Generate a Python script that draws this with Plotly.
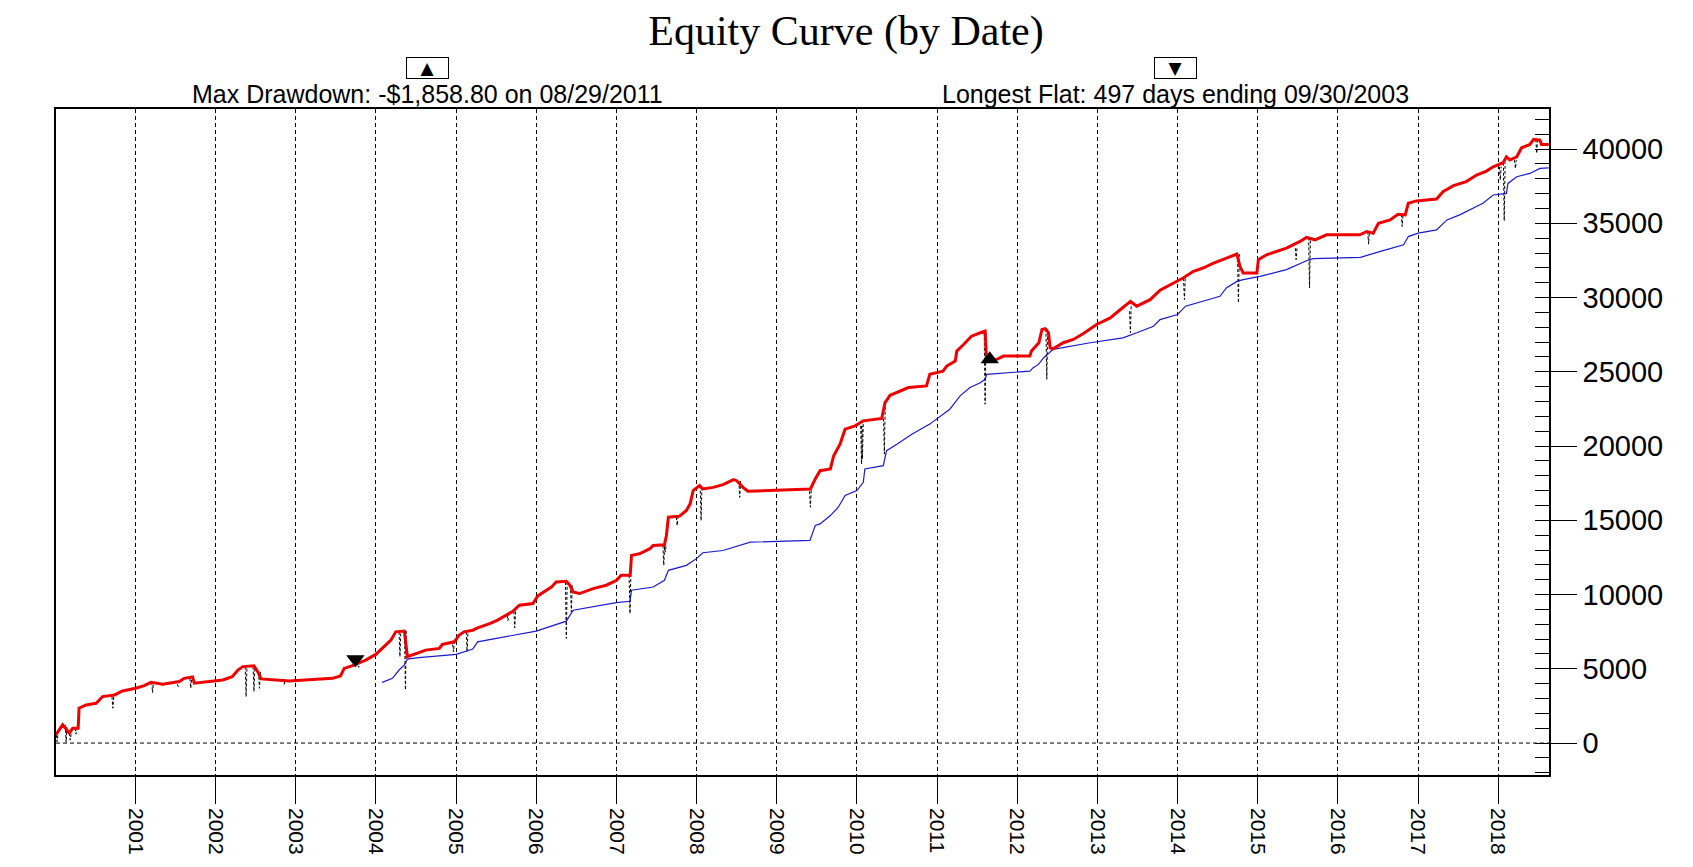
import plotly.graph_objects as go
from datetime import datetime, timedelta

# ---------------- data ----------------
equity_dates = [
    "2000-01-05", "2000-02-04", "2000-03-06", "2000-03-21", "2000-04-15", "2000-04-19",
    "2000-05-21", "2000-07-06", "2000-08-04", "2000-09-28", "2000-11-03", "2001-01-02",
    "2001-02-10", "2001-03-13", "2001-05-05", "2001-07-20", "2001-08-11", "2001-09-18",
    "2001-09-26", "2002-02-03", "2002-03-18", "2002-04-13", "2002-05-05", "2002-06-25",
    "2002-07-12", "2002-07-28", "2002-12-02", "2003-06-18", "2003-07-24", "2003-08-10",
    "2003-09-17", "2003-11-16", "2004-01-01", "2004-02-15", "2004-03-10", "2004-04-01",
    "2004-05-10", "2004-05-24", "2004-07-09", "2004-08-16", "2004-10-16", "2004-10-30",
    "2004-12-24", "2005-01-15", "2005-02-06", "2005-03-18", "2005-04-09", "2005-04-24",
    "2005-06-03", "2005-07-09", "2005-08-17", "2005-09-17", "2005-10-16", "2005-12-17",
    "2006-01-08", "2006-02-06", "2006-03-11", "2006-04-02", "2006-05-18", "2006-06-03",
    "2006-06-18", "2006-07-17", "2006-09-17", "2006-11-16", "2007-01-02", "2007-01-23",
    "2007-03-05", "2007-03-11", "2007-04-16", "2007-06-03", "2007-06-18", "2007-08-08",
    "2007-08-17", "2007-08-26", "2007-10-16", "2007-11-16", "2007-12-03", "2007-12-17",
    "2008-01-15", "2008-01-30", "2008-03-17", "2008-05-01", "2008-06-18", "2008-07-02",
    "2008-07-31", "2008-08-22", "2009-06-03", "2009-06-25", "2009-07-17", "2009-09-02",
    "2009-09-17", "2009-10-16", "2009-11-08", "2009-12-24", "2010-01-30", "2010-04-24",
    "2010-05-09", "2010-06-01", "2010-08-08", "2010-08-24", "2010-11-14", "2010-11-29",
    "2011-01-28", "2011-02-14", "2011-03-25", "2011-04-01", "2011-05-02", "2011-06-07",
    "2011-07-17", "2011-08-08", "2011-08-15", "2011-09-30", "2011-10-31", "2012-02-28",
    "2012-03-06", "2012-04-09", "2012-04-23", "2012-05-08", "2012-05-23", "2012-05-30",
    "2012-06-13", "2012-07-29", "2012-09-13", "2012-10-29", "2012-12-28", "2013-02-28",
    "2013-04-06", "2013-05-31", "2013-06-29", "2013-08-29", "2013-10-13", "2013-12-14",
    "2014-01-26", "2014-03-14", "2014-04-27", "2014-06-14", "2014-08-11", "2014-09-28",
    "2014-10-12", "2014-10-27", "2014-12-28", "2015-01-04", "2015-02-10", "2015-03-29",
    "2015-05-12", "2015-07-13", "2015-08-11", "2015-09-19", "2015-11-11", "2016-04-10",
    "2016-05-12", "2016-06-10", "2016-07-04", "2016-08-26", "2016-10-01", "2016-11-03",
    "2016-11-17", "2016-12-24", "2017-03-26", "2017-04-24", "2017-06-11", "2017-08-08",
    "2017-09-24", "2017-11-08", "2017-12-09", "2018-01-23", "2018-02-07", "2018-02-23",
    "2018-03-26", "2018-04-17", "2018-05-25", "2018-06-11", "2018-07-10", "2018-07-17",
    "2018-08-19",
]
equity_values = [
    560, 1230, 670, 1000, 1000, 2350,
    2570, 2680, 3130, 3240, 3510, 3690,
    3870, 4090, 3960, 4140, 4360, 4450,
    4030, 4250, 4470, 4920, 5150, 5210,
    4810, 4320, 4180, 4360, 4520, 5030,
    5210, 5590, 5970, 6600, 6940, 7490,
    7540, 5820, 6040, 6260, 6375, 6640,
    6820, 7270, 7490, 7600, 7760, 7830,
    8050, 8280, 8610, 8880, 9280, 9400,
    9910, 10180, 10510, 10850, 10890, 10630,
    10180, 10070, 10400, 10630, 10960, 11300,
    11300, 12640, 12750, 13090, 13310, 13350,
    13980, 15210, 15280, 15660, 16110, 17000,
    17340, 17110, 17220, 17400, 17740, 17670,
    17220, 16960, 17110, 17780, 18340, 18460,
    19350, 20130, 21140, 21360, 21700, 21860,
    22930, 23420, 23820, 23940, 24050, 24830,
    25050, 25390, 25730, 26400, 26840, 27400,
    27630, 27740, 25730, 25840, 26060, 26060,
    26400, 26960, 27850, 27900, 27630, 26620,
    26550, 26960, 27180, 27580, 28190, 28630,
    29080, 29750, 29420, 29860, 30500, 30980,
    31320, 31770, 31990, 32320, 32660, 32930,
    32100, 31650, 31650, 32550, 32880, 33110,
    33330, 33780, 34050, 33890, 34230, 34230,
    34450, 34340, 35010, 35230, 35610, 35570,
    36350, 36510, 36640, 37130, 37540, 37810,
    38250, 38520, 38810, 39080, 39480, 39260,
    39480, 40090, 40310, 40650, 40600, 40310,
    40310,
]

trend_dates = [
    "2004-01-30", "2004-03-17", "2004-04-16", "2004-05-10", "2004-05-24", "2004-07-15",
    "2005-01-01", "2005-03-18", "2005-04-09", "2005-07-02", "2006-01-01", "2006-05-18",
    "2006-06-18", "2007-01-01", "2007-03-04", "2007-03-11", "2007-06-18", "2007-08-08",
    "2007-08-26", "2007-11-16", "2008-01-01", "2008-01-30", "2008-05-01", "2008-09-02",
    "2009-06-01", "2009-06-25", "2009-07-17", "2009-09-02", "2009-10-08", "2009-11-08",
    "2010-01-01", "2010-01-30", "2010-02-06", "2010-05-01", "2010-05-16", "2010-07-02",
    "2010-08-15", "2010-09-08", "2010-11-29", "2011-02-28", "2011-04-16", "2011-05-31",
    "2011-07-17", "2011-08-08", "2011-08-15", "2012-02-28", "2012-03-14", "2012-04-07",
    "2012-05-01", "2012-05-30", "2012-06-13", "2012-11-29", "2013-04-27", "2013-06-29",
    "2013-09-13", "2013-10-13", "2014-01-01", "2014-02-06", "2014-03-29", "2014-07-13",
    "2014-08-11", "2014-09-28", "2014-10-27", "2015-01-11", "2015-05-12", "2015-08-11",
    "2015-09-11", "2016-04-13", "2016-07-13", "2016-10-27", "2016-11-17", "2017-01-01",
    "2017-03-26", "2017-05-12", "2017-07-09", "2017-10-23", "2017-12-09", "2018-02-07",
    "2018-02-14", "2018-03-26", "2018-05-25", "2018-07-10", "2018-08-19",
]
trend_values = [
    4090, 4360, 4920, 5260, 5660, 5750,
    5970, 6330, 6820, 7050, 7540, 8210,
    8950, 9460, 9550, 10290, 10510, 10960,
    11630, 11970, 12420, 12820, 12970, 13530,
    13650, 14650, 14760, 15320, 15880, 16670,
    17000, 17560, 18460, 18680, 19690, 20130,
    20580, 20800, 21480, 22480, 23380, 23940,
    24270, 24500, 24830, 25050, 25280, 25500,
    25950, 26290, 26510, 26960, 27290, 27630,
    28070, 28520, 28860, 29420, 29640, 30090,
    30650, 31090, 31210, 31430, 31880, 32480,
    32620, 32710, 33110, 33560, 34110, 34340,
    34560, 35230, 35570, 36350, 36910, 37020,
    37690, 38140, 38360, 38700, 38740,
]

# open-trade excursions below the equity line (dotted)
dip_dates = [
    "2000-01-10", "2000-02-20", "2000-03-10", "2000-04-05", "2000-09-20", "2001-03-20",
    "2001-07-15", "2001-09-10", "2002-05-20", "2002-06-25", "2002-07-20", "2002-11-10",
    "2003-10-15", "2004-04-20", "2004-05-15", "2004-12-20", "2005-02-20", "2005-08-25",
    "2005-09-25", "2006-05-18", "2006-06-10", "2007-03-04", "2007-08-05", "2007-08-12",
    "2007-10-05", "2008-01-22", "2008-07-16", "2009-06-03", "2010-01-22", "2010-01-26",
    "2010-05-06", "2011-08-08", "2012-05-15", "2013-05-31", "2014-02-01", "2014-10-05",
    "2015-06-25", "2015-08-25", "2016-05-20", "2016-10-20", "2018-01-10", "2018-01-28",
    "2018-03-20", "2018-06-25",
]
dip_values = [
    100, 50, 200, 600, 2350, 3400,
    3800, 3700, 3130, 3470, 3690, 3960,
    5100, 5820, 3580, 6150, 6150, 8250,
    7760, 7050, 8840, 8720, 11970, 12860,
    14650, 14990, 16550, 15880, 18790, 19130,
    19460, 22820, 24500, 27630, 29860, 29640,
    32550, 30650, 33600, 34790, 37920, 35170,
    38700, 39710,
]

flat_end_date = ["2003-09-30"]
flat_end_value = [5640]
max_dd_date = ["2011-08-29"]
max_dd_value = [25840]

year_ticks = list(range(2001, 2019))

# ---------------- build ----------------
def to_dt(s):
    return datetime.strptime(s, "%Y-%m-%d")

eq_dt = [to_dt(d) for d in equity_dates]

def equity_at(d):
    v = equity_values[0]
    for di, vi in zip(eq_dt, equity_values):
        if di <= d:
            v = vi
        else:
            break
    return v

dip_x, dip_y = [], []
for ds, low in zip(dip_dates, dip_values):
    d = to_dt(ds)
    a = d - timedelta(days=4)
    b = d + timedelta(days=4)
    dip_x += [a, d, b, None]
    dip_y += [equity_at(a), low, equity_at(b), None]

fig = go.Figure()

fig.add_trace(go.Scatter(
    x=dip_x, y=dip_y, mode="lines", connectgaps=False,
    line=dict(color="black", width=1, dash="3px,2px"),
    showlegend=False, hoverinfo="skip"))

fig.add_trace(go.Scatter(
    x=trend_dates, y=trend_values, mode="lines",
    line=dict(color="#1a1acc", width=1.2), showlegend=False))

fig.add_trace(go.Scatter(
    x=equity_dates, y=equity_values, mode="lines",
    line=dict(color="#ee0000", width=3), showlegend=False))

fig.add_trace(go.Scatter(
    x=flat_end_date, y=flat_end_value, mode="markers",
    marker=dict(symbol="triangle-down", size=16, color="black"), showlegend=False))

fig.add_trace(go.Scatter(
    x=max_dd_date, y=max_dd_value, mode="markers",
    marker=dict(symbol="triangle-up", size=16, color="black"), showlegend=False))

# invisible carrier for the inner minor-tick axis
fig.add_trace(go.Scatter(
    x=[equity_dates[0]], y=[0], yaxis="y2", mode="markers",
    marker=dict(opacity=0), showlegend=False, hoverinfo="skip"))

yr = [-2150, 42700]
xr = ["2000-01-05", "2018-08-20"]

fig.add_shape(type="line", xref="paper", x0=0, x1=1, yref="y", y0=0, y1=0,
              line=dict(color="black", width=1, dash="4px,3px"))

W, H = 1685, 859  # page body adds an 8px offset
fig.update_layout(
    width=W, height=H,
    margin=dict(l=48, r=W - 48 - 1493, t=101, b=H - 101 - 668),
    paper_bgcolor="white", plot_bgcolor="white",
    title=dict(text="Equity Curve (by Date)", x=(846 - 8) / W, xref="container", xanchor="center",
               y=1 - 22 / H, yref="container", yanchor="middle",
               font=dict(family="Liberation Serif, Times New Roman, serif", size=42, color="black")),
    font=dict(family="Liberation Sans, Arial, sans-serif", color="black"),
    xaxis=dict(
        type="date", range=xr,
        tickvals=[f"{y}-01-01" for y in year_ticks], ticktext=[str(y) for y in year_ticks],
        tickangle=90, ticks="outside", ticklen=27, tickwidth=1, tickcolor="black",
        tickfont=dict(size=21, color="black"),
        showgrid=True, gridcolor="black", gridwidth=1, griddash="4px,3px",
        showline=True, linecolor="black", linewidth=1.5, mirror=True, zeroline=False),
    yaxis=dict(
        range=yr, side="right", tickmode="linear", tick0=0, dtick=5000, tickformat="d",
        ticks="outside", ticklen=26, tickwidth=1, tickcolor="black",
        tickfont=dict(size=29, color="black"),
        showgrid=False, zeroline=False,
        showline=True, linecolor="black", linewidth=1.5, mirror=True),
    yaxis2=dict(
        range=yr, overlaying="y", side="right", tickmode="linear", tick0=0, dtick=1000,
        ticks="inside", ticklen=14, tickwidth=1, tickcolor="black",
        showticklabels=False, showgrid=False, zeroline=False, showline=False),
    hovermode=False,
)

fig.add_annotation(text="Max Drawdown: -$1,858.80 on 08/29/2011", xref="paper", yref="paper",
                   x=0.249, y=1 + 15 / 668, xanchor="center", yanchor="middle", showarrow=False,
                   font=dict(size=25, color="black"))
fig.add_annotation(text="Longest Flat: 497 days ending 09/30/2003", xref="paper", yref="paper",
                   x=0.750, y=1 + 15 / 668, xanchor="center", yanchor="middle", showarrow=False,
                   font=dict(size=25, color="black"))
for xp, sym in [(0.249, "▲"), (0.750, "▼")]:
    fig.add_annotation(text=sym, xref="paper", yref="paper", x=xp, y=1 + 41 / 668,
                       xanchor="center", yanchor="middle", showarrow=False,
                       width=41, height=20, bordercolor="black", borderwidth=1, borderpad=0,
                       font=dict(size=17, color="black", family="DejaVu Sans"))

fig.write_html("out.html")
